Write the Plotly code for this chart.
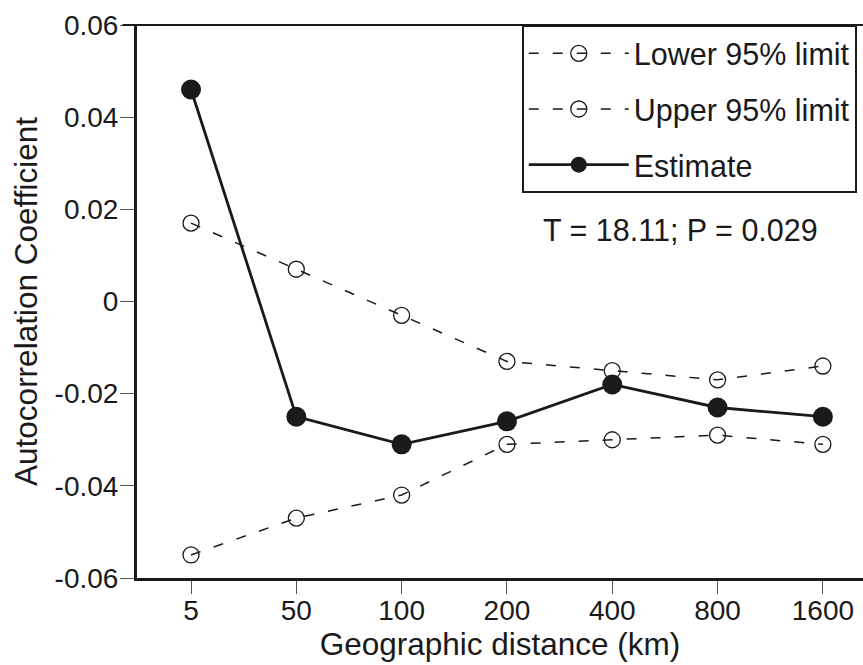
import plotly.graph_objects as go

distances = ["5", "50", "100", "200", "400", "800", "1600"]
estimate = [0.046, -0.025, -0.031, -0.026, -0.018, -0.023, -0.025]
upper95 = [0.017, 0.007, -0.003, -0.013, -0.015, -0.017, -0.014]
lower95 = [-0.055, -0.047, -0.042, -0.031, -0.030, -0.029, -0.031]
y_ticks = [0.06, 0.04, 0.02, 0, -0.02, -0.04, -0.06]
y_ticktext = ["0.06", "0.04", "0.02", "0", "-0.02", "-0.04", "-0.06"]

FONT = "Liberation Sans, Arial, Helvetica, sans-serif"
INK = "#1a1a1a"
TICK_FS = 28
TEXT_FS = 30.5
TITLE_FS = 31.5

fig = go.Figure()
fig.add_trace(go.Scatter(
    x=distances, y=lower95, mode="lines+markers", name="Lower 95% limit",
    line=dict(color=INK, width=1.5, dash="10px,14px"),
    marker=dict(symbol="circle-open", size=16, color=INK, line=dict(width=1.3)),
    legendgroup="a",
))
fig.add_trace(go.Scatter(
    x=distances, y=upper95, mode="lines+markers", name="Upper 95% limit",
    line=dict(color=INK, width=1.5, dash="10px,14px"),
    marker=dict(symbol="circle-open", size=16, color=INK, line=dict(width=1.3)),
    legendgroup="b",
))
fig.add_trace(go.Scatter(
    x=distances, y=estimate, mode="lines+markers", name="Estimate",
    line=dict(color=INK, width=2.8),
    marker=dict(symbol="circle", size=20, color=INK),
    legendgroup="c",
))

fig.update_layout(
    width=863, height=665,
    margin=dict(l=137, r=0, t=25, b=87),
    paper_bgcolor="white", plot_bgcolor="white",
    font=dict(family=FONT, size=TICK_FS, color=INK),
    showlegend=True,
    legend=dict(
        x=0.53, y=1, xanchor="left", yanchor="top",
        bordercolor=INK, borderwidth=2, bgcolor="white",
        font=dict(size=TEXT_FS, color=INK),
        traceorder="grouped", tracegroupgap=13,
        itemwidth=100,
    ),
    xaxis=dict(
        type="category", range=[-0.513, 6.381],
        showline=True, linewidth=3, linecolor=INK,
        ticks="outside", ticklen=13, tickwidth=1, tickcolor="#555",
        ticklabelstandoff=-8,
        tickfont=dict(size=TICK_FS),
        showgrid=False, zeroline=False,
        title=dict(text="Geographic distance (km)", font=dict(size=TITLE_FS), standoff=0),
    ),
    yaxis=dict(
        range=[-0.06, 0.06],
        tickvals=y_ticks, ticktext=y_ticktext,
        showline=True, linewidth=3, linecolor=INK,
        ticks="outside", ticklen=14, tickwidth=1, tickcolor="#555",
        ticklabelstandoff=-4,
        tickfont=dict(size=TICK_FS),
        showgrid=False, zeroline=False,
        title=dict(text="Autocorrelation Coefficient", font=dict(size=TITLE_FS), standoff=8),
    ),
    shapes=[dict(type="line", xref="paper", yref="paper", x0=-0.02, x1=1, y0=1, y1=1,
                 line=dict(color=INK, width=2))],
    annotations=[dict(
        text="T = 18.11; P = 0.029", xref="paper", yref="paper",
        x=0.556, y=0.63, xanchor="left", yanchor="middle", showarrow=False,
        font=dict(size=TEXT_FS, color=INK),
    )],
)

fig.write_html("out.html")
